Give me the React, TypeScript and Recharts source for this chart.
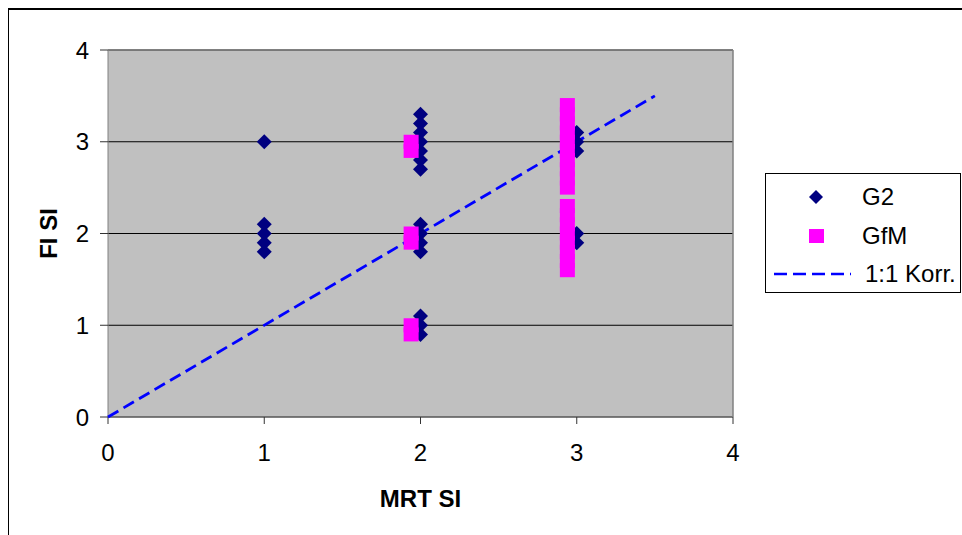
import React from "react";
import {
  CartesianGrid,
  ReferenceLine,
  Scatter,
  ScatterChart,
  XAxis,
  YAxis,
} from "recharts";

// G2 points: MRT SI (x) vs FI SI (y)
const g2Mrt = [1, 1, 1, 1, 1, 2, 2, 2, 2, 2, 2, 2, 2, 2, 2, 2, 2, 2, 2, 3, 3, 3, 3, 3];
const g2Fi = [3.0, 2.1, 2.0, 1.9, 1.8, 3.3, 3.2, 3.1, 3.0, 2.9, 2.8, 2.7, 2.1, 2.0, 1.9, 1.8, 1.1, 1.0, 0.9, 3.1, 3.0, 2.9, 2.0, 1.9];

// GfM points (drawn slightly offset in the original)
const gfmMrt = [1.94, 1.94, 1.94, 1.94, 1.94, 1.94, 2.94, 2.94, 2.94, 2.94, 2.94, 2.94, 2.94, 2.94, 2.94, 2.94, 2.94, 2.94, 2.94, 2.94, 2.94, 2.94, 2.94, 2.94];
const gfmFi = [3.0, 2.9, 2.0, 1.9, 1.0, 0.9, 3.4, 3.3, 3.2, 3.1, 3.0, 2.9, 2.8, 2.7, 2.6, 2.5, 2.3, 2.2, 2.1, 2.0, 1.9, 1.8, 1.7, 1.6];

// 1:1 correlation line
const corrX = [0, 3.5];
const corrY = [0, 3.5];

const ticks = [0, 1, 2, 3, 4];
const legendNames = ["G2", "GfM", "1:1 Korr."];

const g2Data = g2Mrt.map((x, i) => ({ x, y: g2Fi[i] }));
const gfmData = gfmMrt.map((x, i) => ({ x, y: gfmFi[i] }));
const corrData = corrX.map((x, i) => ({ x, y: corrY[i] }));

const NAVY = "#000080";
const MAGENTA = "#FF00FF";
const BLUE = "#0000FF";
const FONT = "'Liberation Sans', Arial, sans-serif";

const Diamond = (props: any) => {
  const { cx, cy } = props;
  const r = 7.5;
  return <polygon points={`${cx},${cy - r} ${cx + r},${cy} ${cx},${cy + r} ${cx - r},${cy}`} fill={NAVY} />;
};

const Square = (props: any) => {
  const { cx, cy } = props;
  return <rect x={cx - 7.5} y={cy - 7} width={15} height={14} fill={MAGENTA} />;
};

const NoShape = () => <g />;

const XTitle = (props: any) => {
  const { viewBox } = props;
  return (
    <text x={viewBox.x + viewBox.width / 2} y={viewBox.y + 81} textAnchor="middle" dominantBaseline="central"
      fontFamily={FONT} fontSize={24} fontWeight="bold" fill="#000">
      MRT SI
    </text>
  );
};

const YTitle = (props: any) => {
  const { viewBox } = props;
  const cx = viewBox.x;
  const cy = viewBox.y + viewBox.height / 2;
  return (
    <text x={cx} y={cy} transform={`rotate(-90 ${cx} ${cy})`} textAnchor="middle" dominantBaseline="central"
      fontFamily={FONT} fontSize={24} fontWeight="bold" fill="#000">
      FI SI
    </text>
  );
};

function ChartLegend() {
  return (
    <div
      style={{
        position: "absolute",
        left: 765,
        top: 173,
        width: 196,
        height: 120,
        border: "1px solid #000",
        background: "#fff",
        fontFamily: FONT,
        fontSize: 24,
        color: "#000",
        boxSizing: "border-box",
      }}
    >
      {legendNames.map((name, i) => (
        <div key={name} style={{ position: "absolute", top: 10 + i * 38.5, left: 0, height: 26, width: 195 }}>
          <svg width={90} height={26} style={{ position: "absolute", left: 0, top: 0 }}>
            {i === 0 && <polygon points="50,6 57,13 50,20 43,13" fill={NAVY} />}
            {i === 1 && <rect x={43} y={6} width={15} height={14} fill={MAGENTA} />}
            {i === 2 && (
              <line x1={8} y1={13} x2={85} y2={13} stroke={BLUE} strokeWidth={2.5} strokeDasharray="13 6" />
            )}
          </svg>
          <span style={{ position: "absolute", left: i === 2 ? 99 : 96, top: 0, lineHeight: "26px", whiteSpace: "nowrap" }}>
            {name}
          </span>
        </div>
      ))}
    </div>
  );
}

export default function App() {
  return (
    <div style={{ position: "absolute", left: 0, top: 0, width: 962, height: 535, background: "#fff", overflow: "hidden" }}>
      <div
        style={{
          position: "absolute",
          left: 8,
          top: 8,
          width: 960,
          height: 530,
          borderTop: "2px solid #000",
          borderLeft: "1px solid #000",
        }}
      />
      <div style={{ position: "absolute", left: 0, top: 0 }}>
        <ScatterChart width={962} height={535} margin={{ top: 50, right: 229, bottom: 88, left: 48 }}>
          <CartesianGrid vertical={false} stroke="#000" fill="#C0C0C0" fillOpacity={1} />
          <XAxis
            type="number"
            dataKey="x"
            domain={[0, 4]}
            ticks={ticks}
            height={30}
            axisLine={{ stroke: "#808080" }}
            tickLine={{ stroke: "#333" }}
            tickSize={7}
            tickMargin={20}
            tick={{ fill: "#000", fontSize: 24, fontFamily: FONT }}
            label={XTitle}
          />
          <YAxis
            type="number"
            dataKey="y"
            domain={[0, 4]}
            ticks={ticks}
            width={60}
            axisLine={{ stroke: "#808080" }}
            tickLine={{ stroke: "#333" }}
            tickSize={8}
            tickMargin={11}
            tick={{ fill: "#000", fontSize: 24, fontFamily: FONT }}
            label={YTitle}
          />
          <ReferenceLine y={4} stroke="#808080" strokeWidth={1.5} />
          <ReferenceLine x={4} stroke="#808080" strokeWidth={1.5} />
          <Scatter
            name="1:1 Korr."
            data={corrData}
            line={{ stroke: BLUE, strokeWidth: 2.8, strokeDasharray: "12 6" }}
            stroke={BLUE}
            fill="none"
            shape={NoShape}
            isAnimationActive={false}
          />
          <Scatter name="G2" data={g2Data} fill={NAVY} shape={Diamond} isAnimationActive={false} />
          <Scatter name="GfM" data={gfmData} fill={MAGENTA} shape={Square} isAnimationActive={false} />
        </ScatterChart>
      </div>
      <ChartLegend />
    </div>
  );
}
